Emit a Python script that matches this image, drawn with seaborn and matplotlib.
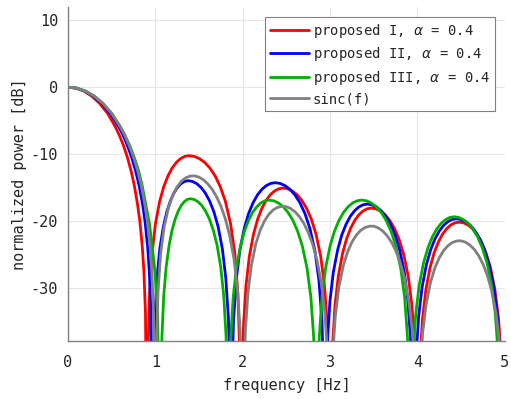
import matplotlib
matplotlib.use("Agg")
import pandas as pd
import matplotlib.pyplot as plt
import seaborn as sns

# -------------------------------
# Data (dB); -60 marks a null (off the chart)
# -------------------------------

red_f = [0, 0.091, 0.181, 0.272, 0.362, 0.453, 0.543, 0.588, 0.634, 0.679, 0.724, 0.760, 0.796, 0.824, 0.851, 0.869, 0.887, 0.905,
         0.915, 0.934, 0.963, 1.001, 1.049, 1.097, 1.145, 1.193, 1.241, 1.289, 1.337, 1.385,
         1.445, 1.504, 1.564, 1.623, 1.683, 1.742, 1.802, 1.861, 1.909, 1.944, 1.968, 1.98,
         1.990, 2.009, 2.038, 2.076, 2.124, 2.172, 2.220, 2.268, 2.316, 2.364, 2.412, 2.46,
         2.514, 2.568, 2.622, 2.676, 2.730, 2.784, 2.838, 2.892, 2.935, 2.968, 2.989, 3.0,
         3.009, 3.028, 3.056, 3.094, 3.141, 3.188, 3.235, 3.282, 3.329, 3.376, 3.423, 3.47,
         3.523, 3.576, 3.629, 3.682, 3.735, 3.788, 3.841, 3.894, 3.936, 3.968, 3.989, 4.0,
         4.010, 4.029, 4.057, 4.095, 4.143, 4.190, 4.238, 4.285, 4.333, 4.380, 4.428, 4.475,
         4.527, 4.578, 4.630, 4.681, 4.733, 4.784, 4.836, 4.887, 4.928, 4.959, 4.980, 4.99]
red_db = [0, -0.14, -0.58, -1.33, -2.42, -3.92, -5.94, -7.20, -8.69, -10.45, -12.62, -14.77, -17.52, -20.21, -23.95, -27.63, -33.8, -60,
          -40.31, -30.78, -24.80, -20.45, -17.11, -14.87, -13.26, -12.09, -11.25, -10.69, -10.36, -10.25,
          -10.36, -10.69, -11.25, -12.09, -13.26, -14.87, -17.11, -20.45, -24.80, -30.78, -40.31, -60,
          -45.16, -35.63, -29.65, -25.30, -21.96, -19.72, -18.11, -16.94, -16.10, -15.54, -15.21, -15.1,
          -15.21, -15.54, -16.10, -16.94, -18.11, -19.72, -21.96, -25.30, -29.65, -35.63, -45.16, -60,
          -48.16, -38.63, -32.65, -28.30, -24.96, -22.72, -21.11, -19.94, -19.10, -18.54, -18.21, -18.1,
          -18.21, -18.54, -19.10, -19.94, -21.11, -22.72, -24.96, -28.30, -32.65, -38.63, -48.16, -60,
          -50.26, -40.73, -34.75, -30.40, -27.06, -24.82, -23.21, -22.04, -21.20, -20.64, -20.31, -20.2,
          -20.31, -20.64, -21.20, -22.04, -23.21, -24.82, -27.06, -30.40, -34.75, -40.73, -50.26, -60]

blue_f = [0, 0.097, 0.194, 0.291, 0.388, 0.485, 0.582, 0.631, 0.679, 0.728, 0.776, 0.815, 0.854, 0.883, 0.912, 0.931, 0.951, 0.97,
          0.978, 0.994, 1.019, 1.051, 1.092, 1.132, 1.173, 1.213, 1.254, 1.294, 1.335, 1.375,
          1.424, 1.473, 1.522, 1.571, 1.620, 1.669, 1.718, 1.767, 1.806, 1.836, 1.855, 1.865,
          1.875, 1.895, 1.926, 1.966, 2.017, 2.067, 2.118, 2.168, 2.219, 2.269, 2.320, 2.37,
          2.427, 2.484, 2.541, 2.598, 2.655, 2.712, 2.769, 2.826, 2.872, 2.906, 2.929, 2.94,
          2.950, 2.969, 2.998, 3.037, 3.086, 3.134, 3.183, 3.231, 3.280, 3.328, 3.377, 3.425,
          3.478, 3.531, 3.584, 3.637, 3.690, 3.743, 3.796, 3.849, 3.891, 3.923, 3.944, 3.955,
          3.965, 3.984, 4.014, 4.053, 4.102, 4.151, 4.200, 4.249, 4.298, 4.347, 4.396, 4.445,
          4.499, 4.552, 4.606, 4.659, 4.713, 4.766, 4.820, 4.873, 4.916, 4.948, 4.969, 4.98]
blue_db = [0, -0.14, -0.58, -1.33, -2.42, -3.92, -5.94, -7.20, -8.69, -10.45, -12.62, -14.77, -17.52, -20.21, -23.95, -27.63, -33.8, -60,
           -44.06, -34.53, -28.55, -24.20, -20.86, -18.62, -17.01, -15.84, -15.00, -14.44, -14.11, -14.0,
           -14.11, -14.44, -15.00, -15.84, -17.01, -18.62, -20.86, -24.20, -28.55, -34.53, -44.06, -60,
           -44.36, -34.83, -28.85, -24.50, -21.16, -18.92, -17.31, -16.14, -15.30, -14.74, -14.41, -14.3,
           -14.41, -14.74, -15.30, -16.14, -17.31, -18.92, -21.16, -24.50, -28.85, -34.83, -44.36, -60,
           -47.56, -38.03, -32.05, -27.70, -24.36, -22.12, -20.51, -19.34, -18.50, -17.94, -17.61, -17.5,
           -17.61, -17.94, -18.50, -19.34, -20.51, -22.12, -24.36, -27.70, -32.05, -38.03, -47.56, -60,
           -49.76, -40.23, -34.25, -29.90, -26.56, -24.32, -22.71, -21.54, -20.70, -20.14, -19.81, -19.7,
           -19.81, -20.14, -20.70, -21.54, -22.71, -24.32, -26.56, -29.90, -34.25, -40.23, -49.76, -60]

green_f = [0, 0.1, 0.2, 0.3, 0.4, 0.5, 0.6, 0.652, 0.705, 0.757, 0.81, 0.85, 0.89, 0.93, 0.965, 0.995, 1.025, 1.055,
           1.062, 1.076, 1.096, 1.124, 1.159, 1.193, 1.228, 1.262, 1.297, 1.331, 1.366, 1.40,
           1.444, 1.487, 1.531, 1.574, 1.618, 1.661, 1.705, 1.748, 1.783, 1.809, 1.826, 1.835,
           1.844, 1.863, 1.891, 1.928, 1.975, 2.021, 2.068, 2.114, 2.161, 2.207, 2.254, 2.30,
           2.355, 2.409, 2.464, 2.518, 2.573, 2.627, 2.682, 2.736, 2.780, 2.812, 2.834, 2.845,
           2.855, 2.876, 2.907, 2.948, 3.000, 3.051, 3.103, 3.154, 3.206, 3.257, 3.309, 3.36,
           3.416, 3.472, 3.528, 3.584, 3.640, 3.696, 3.752, 3.808, 3.853, 3.886, 3.909, 3.92,
           3.930, 3.950, 3.980, 4.020, 4.070, 4.120, 4.170, 4.220, 4.270, 4.320, 4.370, 4.42,
           4.474, 4.527, 4.581, 4.634, 4.688, 4.741, 4.795, 4.848, 4.891, 4.923, 4.944, 4.955]
green_db = [0, -0.14, -0.58, -1.33, -2.42, -3.92, -5.94, -7.20, -8.69, -10.45, -12.62, -14.77, -17.52, -20.21, -23.95, -27.63, -33.8, -60,
            -46.76, -37.23, -31.25, -26.90, -23.56, -21.32, -19.71, -18.54, -17.70, -17.14, -16.81, -16.7,
            -16.81, -17.14, -17.70, -18.54, -19.71, -21.32, -23.56, -26.90, -31.25, -37.23, -46.76, -60,
            -46.96, -37.43, -31.45, -27.10, -23.76, -21.52, -19.91, -18.74, -17.90, -17.34, -17.01, -16.9,
            -17.01, -17.34, -17.90, -18.74, -19.91, -21.52, -23.76, -27.10, -31.45, -37.43, -46.96, -60,
            -46.96, -37.43, -31.45, -27.10, -23.76, -21.52, -19.91, -18.74, -17.90, -17.34, -17.01, -16.9,
            -17.01, -17.34, -17.90, -18.74, -19.91, -21.52, -23.76, -27.10, -31.45, -37.43, -46.96, -60,
            -49.46, -39.93, -33.95, -29.60, -26.26, -24.02, -22.41, -21.24, -20.40, -19.84, -19.51, -19.4,
            -19.51, -19.84, -20.40, -21.24, -22.41, -24.02, -26.26, -29.60, -33.95, -39.93, -49.46, -60]

sinc_f = [0, 0.1, 0.2, 0.3, 0.4, 0.5, 0.6, 0.65, 0.7, 0.75, 0.8, 0.84, 0.88, 0.91, 0.94, 0.96, 0.98, 1.0,
          1.01, 1.03, 1.06, 1.1, 1.15, 1.2, 1.25, 1.3, 1.35, 1.4, 1.45, 1.5,
          1.55, 1.6, 1.65, 1.7, 1.75, 1.8, 1.85, 1.9, 1.94, 1.97, 1.99, 2.0,
          2.01, 2.03, 2.06, 2.1, 2.15, 2.2, 2.25, 2.3, 2.35, 2.4, 2.45, 2.5,
          2.55, 2.6, 2.65, 2.7, 2.75, 2.8, 2.85, 2.9, 2.94, 2.97, 2.99, 3.0,
          3.01, 3.03, 3.06, 3.1, 3.15, 3.2, 3.25, 3.3, 3.35, 3.4, 3.45, 3.5,
          3.55, 3.6, 3.65, 3.7, 3.75, 3.8, 3.85, 3.9, 3.94, 3.97, 3.99, 4.0,
          4.01, 4.03, 4.06, 4.1, 4.15, 4.2, 4.25, 4.3, 4.35, 4.4, 4.45, 4.5,
          4.55, 4.6, 4.65, 4.7, 4.75, 4.8, 4.85, 4.9, 4.94, 4.97, 4.99, 5.0]
sinc_db = [0, -0.14, -0.58, -1.33, -2.42, -3.92, -5.94, -7.20, -8.69, -10.45, -12.62, -14.77, -17.52, -20.21, -23.95, -27.63, -33.8, -60,
           -40.09, -30.73, -25.00, -20.97, -18.02, -16.15, -14.89, -14.06, -13.55, -13.31, -13.28, -13.47,
           -13.86, -14.47, -15.29, -16.39, -17.81, -19.67, -22.15, -25.72, -30.25, -36.36, -45.98, -60,
           -46.07, -36.62, -30.77, -26.59, -23.45, -21.41, -20.00, -19.02, -18.36, -17.99, -17.84, -17.90,
           -18.18, -18.68, -19.41, -20.41, -21.74, -23.51, -25.90, -29.39, -33.86, -39.93, -49.52, -60,
           -49.57, -40.10, -34.21, -29.97, -26.77, -24.67, -23.19, -22.15, -21.44, -21.01, -20.81, -20.82,
           -21.06, -21.51, -22.19, -23.15, -24.43, -26.16, -28.51, -31.96, -36.40, -42.45, -52.02, -60,
           -52.07, -42.58, -36.66, -32.40, -29.16, -27.03, -25.52, -24.45, -23.71, -23.25, -23.02, -23.01,
           -23.21, -23.64, -24.29, -25.23, -26.49, -28.19, -30.52, -33.95, -38.37, -44.40, -53.97, -60]

labels = ["proposed I, $\\alpha$ = 0.4", "proposed II, $\\alpha$ = 0.4",
          "proposed III, $\\alpha$ = 0.4", "sinc(f)"]
colors = ["#ff0000", "#0000ff", "#00b000", "#808080"]

# -------------------------------
# Plot
# -------------------------------

sns.set_style("whitegrid")
plt.rcParams["font.family"] = ["DejaVu Sans Mono"]
plt.rcParams["axes.unicode_minus"] = False

fig = plt.figure(figsize=(5.11, 3.99), dpi=100)
ax = fig.add_axes([0.133, 0.1454, 0.855, 0.837])

series = [(red_f, red_db), (blue_f, blue_db), (green_f, green_db), (sinc_f, sinc_db)]
for (f, db), lab, col in zip(series, labels, colors):
    df = pd.DataFrame({"frequency": f, "power": db})
    sns.lineplot(data=df, x="frequency", y="power", ax=ax, color=col, lw=2.0,
                 label=lab, estimator=None, sort=False)

ax.set_xlim(0, 5)
ax.set_ylim(-38, 12)
ax.set_xticks([0, 1, 2, 3, 4, 5])
ax.set_yticks([-30, -20, -10, 0, 10])
ax.set_xlabel("frequency [Hz]", fontsize=11, color="#262626", labelpad=6)
ax.set_ylabel("normalized power [dB]", fontsize=11, color="#262626", labelpad=3)
ax.tick_params(labelsize=11, colors="#262626", direction="in", length=3)
ax.tick_params(axis="both", color="#808080")
ax.tick_params(axis="x", pad=10)
ax.tick_params(axis="y", pad=7)
ax.grid(True, color="#e6e6e6", lw=0.8)

for side in ["top", "right"]:
    ax.spines[side].set_visible(False)
for side in ["left", "bottom"]:
    ax.spines[side].set_color("#808080")
    ax.spines[side].set_linewidth(1.0)

leg = ax.legend(loc="upper right", fontsize=10, fancybox=False, framealpha=1,
                edgecolor="#808080", handlelength=2.8, borderpad=0.35,
                labelspacing=0.4, handletextpad=0.3, borderaxespad=0.7)
leg.get_frame().set_linewidth(0.8)

fig.savefig("out.png", dpi=100)
